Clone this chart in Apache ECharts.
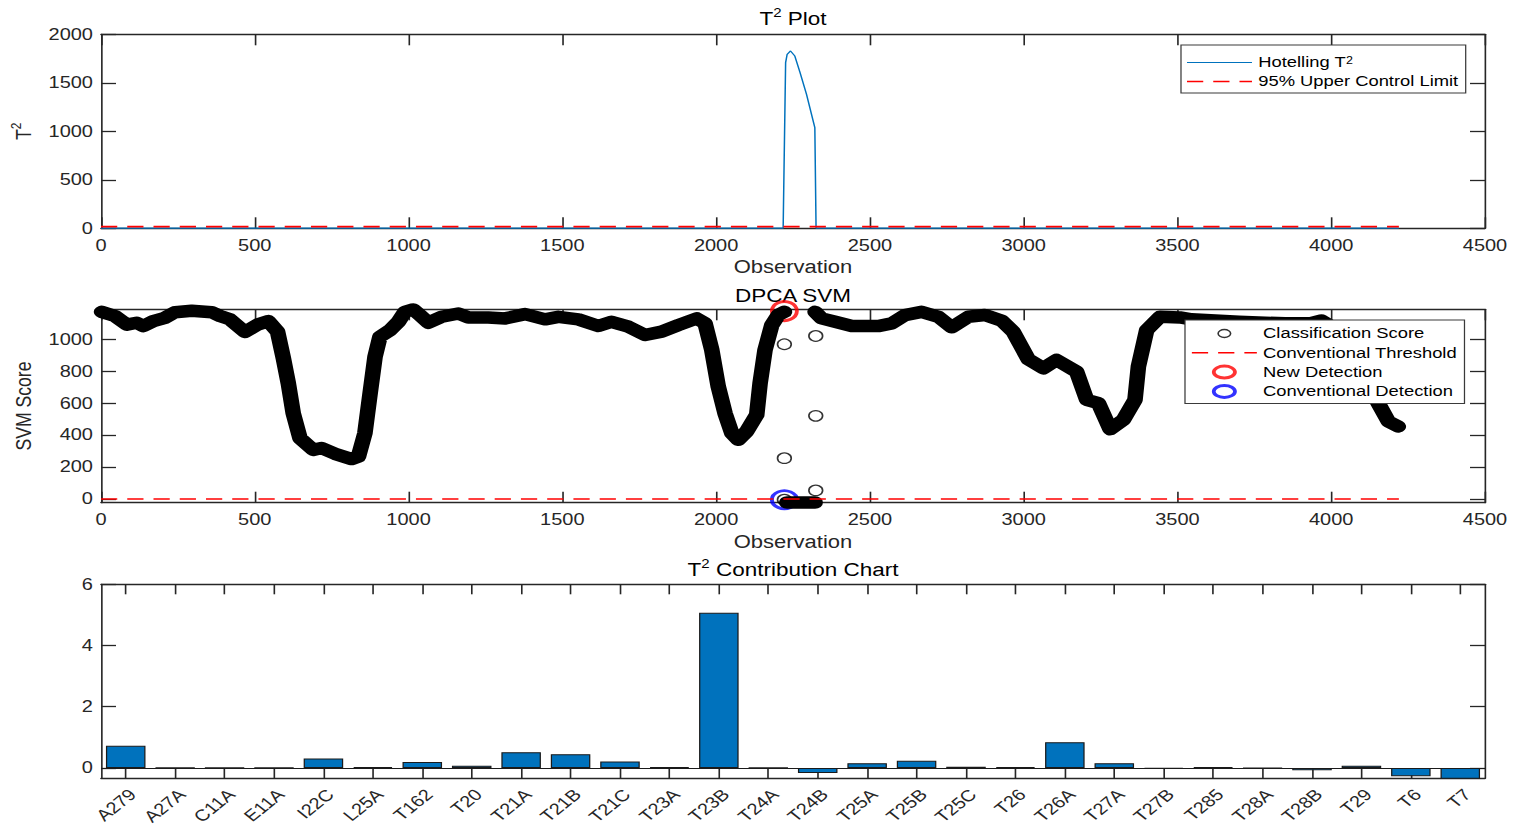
<!DOCTYPE html>
<html><head><meta charset="utf-8">
<script src="https://cdn.jsdelivr.net/npm/echarts@6/dist/echarts.min.js"></script>
<style>
html,body{margin:0;padding:0;background:#fff;overflow:hidden;}
#wrap{width:1521px;height:827px;overflow:hidden;position:relative;background:#fff;}
#chart{position:absolute;left:0;top:0;width:1217px;height:827px;transform:scaleX(1.24979);transform-origin:0 0;}
</style></head><body><div id="wrap"><div id="chart"></div></div>
<script>
// ---------------- DATA ----------------
// T2 plot (Hotelling T^2 statistic vs observation)
const t2Obs = [0, 1000, 2000, 2218, 2226, 2231, 2242, 2256, 2273, 2294, 2321, 2325, 3000, 4220];
const t2Val = [2, 2, 2, 2, 1708, 1794, 1828, 1776, 1605, 1381, 1038, 2, 2, 2];
const uclObs = [0, 4220];
const uclVal = [17, 17];

// DPCA SVM classification score (dense band traced as key points)
const svmObsA = [2, 45, 84, 116, 138, 170, 208, 241, 295, 360, 387, 419, 468, 511, 544, 574, 593, 609, 625, 647, 690, 717, 761, 815, 837, 858, 875, 891, 907, 940, 967, 988, 1015, 1037, 1064, 1108, 1162, 1194, 1259, 1314, 1379, 1444, 1487, 1552, 1617, 1660, 1715, 1769, 1823, 1877, 1937, 1964, 1986, 2007, 2029, 2051, 2072, 2099, 2132, 2143, 2159, 2181, 2202, 2222];
const svmValA = [1172, 1146, 1092, 1104, 1083, 1114, 1135, 1170, 1179, 1170, 1146, 1125, 1046, 1094, 1114, 1048, 881, 725, 537, 381, 308, 319, 283, 250, 266, 412, 662, 891, 1016, 1058, 1110, 1172, 1187, 1152, 1104, 1141, 1162, 1137, 1137, 1131, 1158, 1125, 1141, 1125, 1083, 1110, 1079, 1027, 1048, 1089, 1131, 1100, 933, 704, 537, 412, 371, 423, 527, 725, 933, 1089, 1152, 1172];
const svmObsB = [2322, 2343, 2387, 2441, 2527, 2571, 2614, 2668, 2723, 2766, 2820, 2874, 2929, 2966, 3015, 3064, 3107, 3172, 3205, 3243, 3281, 3324, 3362, 3373, 3400, 3443, 3508, 3546, 3700, 3850, 3930, 3968, 4000, 4060, 4120, 4153, 4186, 4218];
const svmValB = [1172, 1131, 1110, 1083, 1083, 1100, 1152, 1172, 1141, 1075, 1141, 1152, 1116, 1048, 875, 819, 871, 798, 621, 600, 437, 496, 621, 829, 1058, 1141, 1137, 1125, 1110, 1100, 1100, 1118, 1080, 950, 720, 600, 485, 454];
const svmObsC = [2230, 2322];
const svmValC = [-22, -22];
const outlierObs = [2222, 2222, 2222, 2324, 2324, 2324];
const outlierVal = [969, 256, -4, 1021, 521, 54];
const thrObs = [0, 4220];
const thrVal = [0, 0];
const newDetObs = [2222];
const newDetVal = [1177];
const convDetObs = [2222];
const convDetVal = [-4];
const svmTicks = [0, 200, 400, 600, 800, 1000];

// T2 contribution chart
const contribCats = ['A279','A27A','C11A','E11A','I22C','L25A','T162','T20','T21A','T21B','T21C','T23A','T23B','T24A','T24B','T25A','T25B','T25C','T26','T26A','T27A','T27B','T285','T28A','T28B','T29','T6','T7'];
const contribVals = [0.72, 0.005, 0.004, 0.004, 0.31, 0.03, 0.19, 0.07, 0.51, 0.45, 0.21, 0.02, 5.07, 0.005, -0.17, 0.15, 0.23, 0.04, 0.03, 0.84, 0.15, -0.03, 0.02, -0.01, -0.075, 0.07, -0.27, -0.5];
const contribTicks = [0, 2, 4, 6];

// ---------------- CHART ----------------
const S = 1521 / 1217;
const px = v => v / S;
const AX = '#262626';
const FONT = 'Liberation Sans';
const AXL = {color: AX, width: 1.3};
const pairs = (xs, ys) => xs.map((x, i) => [x, ys[i]]);
const plain = v => String(v);

const RICH = {
  n: {fontSize: 18, lineHeight: 21, fontFamily: FONT, color: '#000', verticalAlign: 'bottom'},
  s: {fontSize: 12, lineHeight: 12, fontFamily: FONT, color: '#000', verticalAlign: 'top'}
};
const RICHY = {
  n: {fontSize: 18, lineHeight: 21, fontFamily: FONT, color: AX, verticalAlign: 'bottom'},
  s: {fontSize: 12, lineHeight: 12, fontFamily: FONT, color: AX, verticalAlign: 'top'}
};
const tickLabel = {color: AX, fontSize: 16, fontFamily: FONT};
const gl = px(101), gw = px(1485) - px(101);
const hideSym = {color: 'rgba(0,0,0,0)', borderColor: 'rgba(0,0,0,0)', borderWidth: 0, opacity: 0};

function obsAxisBottom(gi) {
  return {gridIndex: gi, type: 'value', position: 'bottom', min: 0, max: 4500, interval: 500,
    axisLine: {show: true, onZero: false, lineStyle: AXL}, axisTick: {show: true, inside: true, length: 11, lineStyle: AXL},
    axisLabel: Object.assign({margin: 9, formatter: plain}, tickLabel), splitLine: {show: false},
    name: 'Observation', nameLocation: 'middle', nameGap: 30,
    nameTextStyle: {color: AX, fontSize: 17.6, fontFamily: FONT}};
}
function obsAxisTop(gi, title, gap) {
  return {gridIndex: gi, type: 'value', position: 'top', min: 0, max: 4500, interval: 500,
    axisLine: {show: true, onZero: false, lineStyle: AXL}, axisTick: {show: true, inside: true, length: 11, lineStyle: AXL},
    axisLabel: {show: false}, splitLine: {show: false},
    name: title, nameLocation: 'middle', nameGap: gap, nameTextStyle: {rich: RICH}};
}
function yLeft(gi, min, max, ticks, extra) {
  return Object.assign({gridIndex: gi, type: 'value', position: 'left', min: min, max: max,
    axisLine: {show: true, onZero: false, lineStyle: AXL},
    axisTick: {show: true, inside: true, length: px(15), lineStyle: AXL, customValues: ticks},
    axisLabel: Object.assign({margin: px(8), formatter: plain, customValues: ticks}, tickLabel),
    splitLine: {show: false}}, extra || {});
}
function yRight(gi, min, max, ticks) {
  return {gridIndex: gi, type: 'value', position: 'right', min: min, max: max,
    axisLine: {show: true, onZero: false, lineStyle: AXL},
    axisTick: {show: true, inside: true, length: px(15), lineStyle: AXL, customValues: ticks},
    axisLabel: {show: false, customValues: ticks}, splitLine: {show: false}};
}
function catAxis(pos, extra) {
  return Object.assign({gridIndex: 2, type: 'category', position: pos, data: contribCats, boundaryGap: true,
    axisLine: {show: true, onZero: false, lineStyle: AXL},
    axisTick: {show: true, inside: true, length: 10, alignWithLabel: true, interval: 0, lineStyle: AXL},
    splitLine: {show: false}}, extra);
}

const t2Ticks = [0, 500, 1000, 1500, 2000];

const chart = echarts.init(document.getElementById('chart'), null, {renderer: 'svg', width: 1217, height: 827});
chart.setOption({
  animation: false,
  backgroundColor: '#fff',
  grid: [
    {left: gl, width: gw, top: 34.3, height: 194, outerBoundsMode: 'none'},
    {left: gl, width: gw, top: 309.3, height: 193.4, outerBoundsMode: 'none'},
    {left: gl, width: gw, top: 584.3, height: 194, outerBoundsMode: 'none'}
  ],
  legend: [
    {orient: 'vertical', left: px(1181), top: 45, itemWidth: 52, itemHeight: 12, itemGap: 4,
     padding: [10, 6, 4, 4], backgroundColor: '#fff', borderColor: '#3a3a3a', borderWidth: 1, borderRadius: 0,
     textStyle: {color: '#000', fontSize: 14.7, fontFamily: FONT,
       rich: {n: {fontSize: 14.7, fontFamily: FONT, color: '#000', verticalAlign: 'bottom'},
              s: {fontSize: 10, fontFamily: FONT, color: '#000', verticalAlign: 'top'}}},
     formatter: name => name === 'Hotelling T2' ? '{n|Hotelling T}{s|2}' : '{n|' + name + '}',
     data: [
       {name: 'Hotelling T2', lineStyle: {width: 1.2}, itemStyle: hideSym},
       {name: '95% Upper Control Limit', lineStyle: {width: 1.6}, itemStyle: hideSym}
     ]},
    {orient: 'vertical', left: px(1185), top: 320, itemWidth: 52, itemHeight: 12, itemGap: 4.3,
     padding: [6, 6, 4.5, 4], backgroundColor: '#fff', borderColor: '#3a3a3a', borderWidth: 1, borderRadius: 0,
     textStyle: {color: '#000', fontSize: 14.7, fontFamily: FONT},
     data: [
       {name: 'Classification Score', icon: 'path://M0,0M52,12M21,6A5,4,0,1,0,31,6A5,4,0,1,0,21,6Z',
        itemStyle: {color: 'rgba(0,0,0,0)', borderColor: '#000', borderWidth: 1.3}},
       {name: 'Conventional Threshold', lineStyle: {width: 1.6}, itemStyle: hideSym},
       {name: 'New Detection', icon: 'path://M0,0M52,12M17.5,6A8.5,6,0,1,0,34.5,6A8.5,6,0,1,0,17.5,6Z',
        itemStyle: {color: 'rgba(0,0,0,0)', borderColor: '#ff0000', borderWidth: 3}},
       {name: 'Conventional Detection', icon: 'path://M0,0M52,12M17.5,6A8.5,6,0,1,0,34.5,6A8.5,6,0,1,0,17.5,6Z',
        itemStyle: {color: 'rgba(0,0,0,0)', borderColor: '#0000ff', borderWidth: 3}}
     ]}
  ],
  xAxis: [
    obsAxisBottom(0),
    obsAxisTop(0, '{n|T}{s|2}{n| Plot}', 6),
    obsAxisBottom(1),
    obsAxisTop(1, '{n|DPCA SVM}', 4),
    catAxis('bottom', {axisLabel: Object.assign({interval: 0, rotate: 45, margin: 8, verticalAlign: 'top'}, tickLabel)}),
    catAxis('top', {axisLabel: {show: false},
      name: '{n|T}{s|2}{n| Contribution Chart}', nameLocation: 'middle', nameGap: 5, nameTextStyle: {rich: RICH}})
  ],
  yAxis: [
    yLeft(0, 0, 2000, t2Ticks, {name: '{n|T}{s|2}', nameLocation: 'middle', nameGap: 36, nameRotate: 90, nameTextStyle: {rich: RICHY}}),
    yRight(0, 0, 2000, t2Ticks),
    yLeft(1, -23, 1188, svmTicks, {name: 'SVM Score', nameLocation: 'middle', nameGap: 38, nameRotate: 90,
      nameTextStyle: {color: AX, fontSize: 17.6, fontFamily: FONT}}),
    yRight(1, -23, 1188, svmTicks),
    yLeft(2, -0.34, 6, contribTicks),
    yRight(2, -0.34, 6, contribTicks)
  ],
  series: [
    {name: 'Hotelling T2', type: 'line', xAxisIndex: 0, yAxisIndex: 0, data: pairs(t2Obs, t2Val),
     symbol: 'none', color: '#0072BD', lineStyle: {color: '#0072BD', width: 1.2}},
    {name: '95% Upper Control Limit', type: 'line', xAxisIndex: 0, yAxisIndex: 0, data: pairs(uclObs, uclVal),
     symbol: 'none', color: '#ff0000', lineStyle: {color: '#ff0000', width: 1.6, type: [13, 8]}},
    {name: 'svmBandA', type: 'line', xAxisIndex: 2, yAxisIndex: 2, data: pairs(svmObsA, svmValA), clip: false,
     symbol: 'none', silent: true, lineStyle: {color: '#000', width: 12.5, cap: 'round', join: 'round'}},
    {name: 'svmBandB', type: 'line', xAxisIndex: 2, yAxisIndex: 2, data: pairs(svmObsB, svmValB), clip: false,
     symbol: 'none', silent: true, lineStyle: {color: '#000', width: 12.5, cap: 'round', join: 'round'}},
    {name: 'svmBandC', type: 'line', xAxisIndex: 2, yAxisIndex: 2, data: pairs(svmObsC, svmValC), clip: false,
     symbol: 'none', silent: true, lineStyle: {color: '#000', width: 12.5, cap: 'round', join: 'round'}},
    {name: 'Classification Score', type: 'scatter', xAxisIndex: 2, yAxisIndex: 2, data: pairs(outlierObs, outlierVal),
     clip: false, symbol: 'circle', symbolSize: [11, 10.5],
     itemStyle: {color: 'rgba(0,0,0,0)', borderColor: '#000', borderWidth: 1.3}},
    {name: 'Conventional Threshold', type: 'line', xAxisIndex: 2, yAxisIndex: 2, data: pairs(thrObs, thrVal),
     symbol: 'none', color: '#ff0000', lineStyle: {color: '#ff0000', width: 1.6, type: [13, 8]}},
    {name: 'New Detection', type: 'scatter', xAxisIndex: 2, yAxisIndex: 2, data: pairs(newDetObs, newDetVal),
     clip: false, symbol: 'circle', symbolSize: [20, 19],
     itemStyle: {color: 'rgba(0,0,0,0)', borderColor: '#ff0000', borderWidth: 3}},
    {name: 'Conventional Detection', type: 'scatter', xAxisIndex: 2, yAxisIndex: 2, data: pairs(convDetObs, convDetVal),
     clip: false, symbol: 'circle', symbolSize: [20, 18],
     itemStyle: {color: 'rgba(0,0,0,0)', borderColor: '#0000ff', borderWidth: 3}},
    {name: 'contrib', type: 'bar', xAxisIndex: 4, yAxisIndex: 4, data: contribVals, barCategoryGap: '20%',
     itemStyle: {color: '#0072BD', borderColor: '#1a1a1a', borderWidth: 1},
     markLine: {silent: true, symbol: 'none', label: {show: false},
       lineStyle: {color: '#1a1a1a', width: 1, type: 'solid'}, data: [{yAxis: 0}]}}
  ]
});
</script></body></html>
